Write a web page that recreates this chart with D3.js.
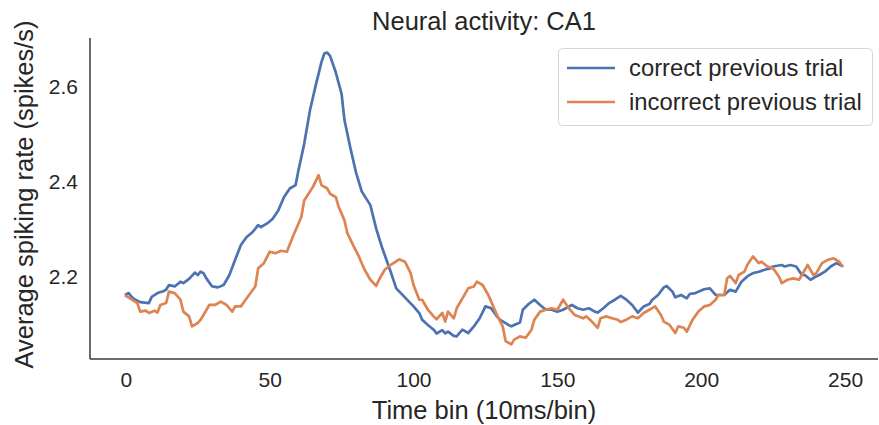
<!DOCTYPE html>
<html>
<head>
<meta charset="utf-8">
<script src="https://cdn.jsdelivr.net/npm/d3@7"></script>
<style>
  body { margin: 0; background: #fff; }
  svg text { font-family: "Liberation Sans", Arial, sans-serif; fill: #262626; }
</style>
</head>
<body>
<svg id="chart" width="879" height="425"></svg>
<script>
// Data (time bin, average spiking rate).
const correctBins = [0, 1, 2, 3, 5, 8, 9, 11, 13, 14, 15, 17, 19, 20, 22, 24, 25, 26, 27, 28, 30, 32, 34, 36, 38, 40, 42, 44, 46, 47, 49,
  51, 53, 55, 57, 59, 60, 62, 64, 66, 68, 69, 70, 71, 73, 75, 76, 78, 80, 82, 85, 87, 89, 92, 94, 97, 100,
  102, 103, 105, 107, 108, 110, 111, 112, 114, 115, 117, 119, 121, 123, 125, 127, 129, 130, 133, 134, 137, 138, 140, 142, 144, 146, 148, 150,
  152, 155, 157, 159, 161, 163, 164, 166, 168, 170, 172, 174, 176, 178, 180, 182, 183, 185, 187, 188, 190, 191, 193, 195, 196, 198, 201,
  203, 205, 208, 210, 212, 214, 216, 218, 220, 222, 224, 225, 228, 229, 231, 233, 235, 236, 238, 240, 241, 243, 245, 247, 249];
const correctRate = [2.163, 2.166, 2.158, 2.153, 2.147, 2.145, 2.158, 2.166, 2.170, 2.173, 2.183, 2.180, 2.190, 2.187, 2.196, 2.209, 2.204, 2.211, 2.208, 2.197, 2.180, 2.178, 2.183, 2.204, 2.236, 2.267, 2.284, 2.294, 2.309, 2.305, 2.312,
  2.322, 2.340, 2.368, 2.386, 2.393, 2.424, 2.480, 2.550, 2.603, 2.652, 2.670, 2.672, 2.665, 2.630, 2.585, 2.530, 2.473, 2.420, 2.380, 2.351, 2.302, 2.263, 2.212, 2.176, 2.157, 2.138,
  2.124, 2.110, 2.099, 2.089, 2.081, 2.088, 2.081, 2.085, 2.076, 2.075, 2.089, 2.082, 2.096, 2.113, 2.138, 2.134, 2.117, 2.110, 2.099, 2.096, 2.104, 2.131, 2.143, 2.152, 2.141, 2.131, 2.131, 2.127,
  2.131, 2.141, 2.134, 2.131, 2.134, 2.127, 2.125, 2.134, 2.145, 2.152, 2.160, 2.152, 2.141, 2.125, 2.138, 2.143, 2.152, 2.162, 2.178, 2.181, 2.169, 2.157, 2.162, 2.155, 2.164, 2.166, 2.174,
  2.176, 2.162, 2.162, 2.173, 2.169, 2.190, 2.201, 2.208, 2.211, 2.215, 2.218, 2.222, 2.225, 2.222, 2.225, 2.222, 2.204, 2.204, 2.194, 2.201, 2.204, 2.211, 2.222, 2.229, 2.223];

const incorrectBins = [0, 2, 4, 5, 7, 8, 10, 11, 12, 14, 15, 17, 19, 20, 22, 23, 25, 26, 27, 29, 31, 33, 35, 37, 38, 40, 42, 45, 46, 48, 50,
  52, 54, 56, 58, 61, 62, 65, 67, 68, 70, 71, 73, 74, 76, 77, 79, 81, 83, 85, 87, 88, 90, 92, 95, 97, 99, 100,
  102, 103, 105, 107, 108, 110, 111, 112, 114, 115, 117, 119, 121, 122, 124, 126, 127, 129, 131, 132, 134, 135, 137, 139, 141, 142, 144, 146, 148, 150,
  152, 154, 156, 159, 160, 162, 164, 165, 167, 169, 171, 172, 174, 176, 178, 180, 182, 184, 186, 187, 189, 191, 192, 194, 195, 197, 199, 201,
  203, 205, 206, 208, 209, 210, 212, 213, 215, 216, 218, 220, 221, 223, 225, 227, 228, 230, 232, 234, 235, 237, 239, 240, 242, 244, 246, 248, 249];
const incorrectRate = [2.160, 2.153, 2.145, 2.127, 2.129, 2.124, 2.129, 2.125, 2.141, 2.145, 2.169, 2.166, 2.152, 2.127, 2.117, 2.096, 2.103, 2.110, 2.120, 2.141, 2.141, 2.148, 2.141, 2.127, 2.138, 2.138, 2.155, 2.180, 2.218, 2.229, 2.253,
  2.250, 2.255, 2.253, 2.284, 2.326, 2.361, 2.389, 2.414, 2.393, 2.386, 2.375, 2.368, 2.347, 2.319, 2.292, 2.267, 2.243, 2.215, 2.194, 2.181, 2.194, 2.215, 2.225, 2.237, 2.232, 2.208, 2.183,
  2.152, 2.152, 2.131, 2.117, 2.111, 2.124, 2.106, 2.127, 2.113, 2.134, 2.155, 2.176, 2.180, 2.190, 2.183, 2.162, 2.148, 2.120, 2.096, 2.065, 2.058, 2.068, 2.075, 2.072, 2.089, 2.110, 2.127, 2.131, 2.134, 2.131,
  2.152, 2.134, 2.120, 2.113, 2.117, 2.106, 2.093, 2.113, 2.117, 2.113, 2.110, 2.105, 2.110, 2.117, 2.113, 2.124, 2.131, 2.138, 2.120, 2.106, 2.099, 2.082, 2.096, 2.093, 2.085, 2.110, 2.127, 2.138,
  2.141, 2.152, 2.162, 2.162, 2.197, 2.202, 2.187, 2.204, 2.211, 2.225, 2.243, 2.229, 2.232, 2.222, 2.218, 2.201, 2.187, 2.194, 2.197, 2.194, 2.204, 2.225, 2.204, 2.208, 2.229, 2.236, 2.239, 2.232, 2.223];

const seriesNames = ["correct previous trial", "incorrect previous trial"];
const seriesColors = ["#4c72b0", "#dd8452"];
const xTicks = [0, 50, 100, 150, 200, 250];
const yTicks = [2.2, 2.4, 2.6];

const series = [
  { name: seriesNames[0], color: seriesColors[0], pts: correctBins.map((b, i) => [b, correctRate[i]]) },
  { name: seriesNames[1], color: seriesColors[1], pts: incorrectBins.map((b, i) => [b, incorrectRate[i]]) }
];

const svg = d3.select("#chart");
const plot = { left: 90, right: 878, top: 38, bottom: 359 };

// Matplotlib-style 5% padding around the data.
const allX = series.flatMap(s => s.pts.map(p => p[0]));
const allY = series.flatMap(s => s.pts.map(p => p[1]));
const [x0, x1] = d3.extent(allX);
const [y0, y1] = d3.extent(allY);
const padX = (x1 - x0) * 0.05, padY = (y1 - y0) * 0.05;

const x = d3.scaleLinear().domain([x0 - padX, x1 + padX]).range([plot.left, plot.right]);
const y = d3.scaleLinear().domain([y0 - padY, y1 + padY]).range([plot.bottom, plot.top]);

// Axes (no tick marks, seaborn "white" style).
const xAxis = svg.append("g")
  .attr("transform", `translate(0,${plot.bottom})`)
  .call(d3.axisBottom(x).tickValues(xTicks).tickSize(0).tickPadding(13).tickFormat(d3.format("d")));
const yAxis = svg.append("g")
  .attr("transform", `translate(${plot.left},0)`)
  .call(d3.axisLeft(y).tickValues(yTicks).tickSize(0).tickPadding(12).tickFormat(d3.format(".1f")));

[xAxis, yAxis].forEach(g => {
  g.select(".domain").attr("stroke", "#3a3a3a").attr("stroke-width", 1.5);
  g.selectAll("text").attr("font-size", "21px").attr("fill", "#262626");
});
xAxis.select(".domain").attr("d", `M${plot.left},0H${plot.right}`);
yAxis.select(".domain").attr("d", `M0,${plot.top}V${plot.bottom}`);

// Lines
const line = d3.line().x(d => x(d[0])).y(d => y(d[1]));
svg.append("g").selectAll("path")
  .data(series)
  .join("path")
  .attr("d", d => line(d.pts))
  .attr("fill", "none")
  .attr("stroke", d => d.color)
  .attr("stroke-width", 2.7)
  .attr("stroke-linejoin", "round")
  .attr("stroke-linecap", "round");

// Title and axis labels
svg.append("text")
  .attr("x", (plot.left + plot.right) / 2)
  .attr("y", 30)
  .attr("text-anchor", "middle")
  .attr("font-size", "25.5px")
  .text("Neural activity: CA1");

svg.append("text")
  .attr("x", (plot.left + plot.right) / 2)
  .attr("y", 419)
  .attr("text-anchor", "middle")
  .attr("font-size", "25.5px")
  .text("Time bin (10ms/bin)");

svg.append("text")
  .attr("transform", `translate(33,${(plot.top + plot.bottom) / 2 - 4}) rotate(-90)`)
  .attr("text-anchor", "middle")
  .attr("font-size", "25.5px")
  .text("Average spiking rate (spikes/s)");

// Legend
const legend = svg.append("g");
legend.append("rect")
  .attr("x", 558.5).attr("y", 48.5)
  .attr("width", 314).attr("height", 77)
  .attr("rx", 4)
  .attr("fill", "#fff")
  .attr("fill-opacity", 0.8)
  .attr("stroke", "#d6d6d6");

const items = legend.selectAll("g.item")
  .data(series)
  .join("g")
  .attr("class", "item")
  .attr("transform", (d, i) => `translate(0,${68 + i * 34})`);
items.append("line")
  .attr("x1", 567).attr("x2", 615)
  .attr("stroke", d => d.color)
  .attr("stroke-width", 2.7);
items.append("text")
  .attr("x", 629)
  .attr("dy", "0.35em")
  .attr("font-size", "23.8px")
  .text(d => d.name);
</script>
</body>
</html>
